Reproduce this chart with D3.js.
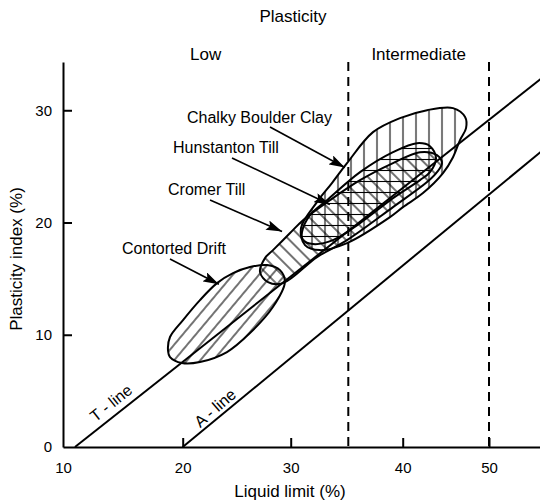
<!DOCTYPE html>
<html>
<head>
<meta charset="utf-8">
<script src="https://cdn.jsdelivr.net/npm/d3@7"></script>
<style>
  body { margin: 0; background: #fff; }
  text { font-family: "Liberation Sans", Arial, Helvetica, sans-serif; fill: #000; }
</style>
</head>
<body>
<svg id="chart" width="540" height="504"></svg>
<script>
// Axis ticks and plasticity class boundaries (liquid limit, %)
const liquidLimitTicks = [10, 20, 30, 40, 50];
const plasticityIndexTicks = [0, 10, 20, 30];
const classBoundaries = [35, 50];
const classNames = ["Low", "Intermediate"];

// Reference lines as [liquid limit, plasticity index] end points
const tLine = [[11, 0], [56, 32.8]];
const aLine = [[20, 0], [56, 26.3]];

// Envelopes of each till, outline points [LL, PI]
const contortedDrift = [
  [18.77, 8.64], [18.94, 9.80], [20.03, 11.31], [21.60, 13.09], [23.18, 14.60],
  [24.66, 15.49], [26.23, 16.03], [27.81, 16.21], [29.01, 15.76], [29.46, 14.69],
  [28.35, 12.47], [26.23, 10.15], [24.10, 8.46], [21.60, 7.57], [19.94, 7.48], [18.94, 8.01]
];
const cromerTill = [
  [27.16, 15.58], [27.62, 16.83], [28.36, 17.54], [29.94, 19.06], [31.07, 20.21],
  [33.41, 21.99], [36.08, 23.77], [39.11, 25.29], [42.00, 26.27], [43.97, 26.00],
  [44.55, 25.29], [43.97, 24.49], [42.82, 23.60], [39.11, 21.37], [34.89, 18.43],
  [32.28, 16.92], [29.29, 14.60], [27.90, 14.69]
];
const hunstantonTill = [
  [30.98, 19.15], [31.68, 20.66], [33.15, 21.99], [36.08, 24.49], [39.11, 26.27],
  [41.66, 27.07], [43.16, 26.80], [43.86, 25.73], [43.16, 24.49], [42.00, 23.78],
  [39.11, 22.17], [36.08, 19.95], [33.67, 18.43], [31.94, 18.08], [31.07, 18.43]
];
const chalkyBoulderClay = [
  [30.89, 19.50], [32.28, 21.82], [33.58, 23.51], [34.89, 25.29], [37.27, 28.05],
  [39.75, 29.30], [42.82, 30.01], [45.83, 30.19], [47.23, 29.39], [47.34, 28.41],
  [46.64, 27.34], [45.83, 25.82], [44.67, 24.40], [42.35, 22.62], [40.03, 21.37],
  [38.83, 20.48], [34.89, 18.17], [32.54, 17.54], [31.24, 17.99]
];

// Labelled envelopes: name, outline, point the arrow indicates [LL, PI]
const tillNames = ["Chalky Boulder Clay", "Hunstanton Till", "Cromer Till", "Contorted Drift"];
const tillOutlines = [chalkyBoulderClay, hunstantonTill, cromerTill, contortedDrift];
const arrowTargets = [[34.7, 24.9], [33.4, 21.6], [29.2, 19.2], [23.35, 14.5]];

const svg = d3.select("#chart");
svg.append("rect").attr("width", 540).attr("height", 504).attr("fill", "#fff");

// The axis is drawn slightly uneven, so the liquid limit scale is piecewise
const x = d3.scaleLinear()
  .domain([10, 20, 30, 35, 40, 50, 56])
  .range([63, 182.7, 290.7, 348.3, 402.7, 489, 540.8]);
const y = d3.scaleLinear().domain([0, 34.3]).range([447, 62]);

// Hatch patterns
const defs = svg.append("defs");
function hatch(id, spacing, angle, offset) {
  const p = defs.append("pattern")
    .attr("id", id)
    .attr("patternUnits", "userSpaceOnUse")
    .attr("width", spacing).attr("height", spacing)
    .attr("x", offset || 0)
    .attr("patternTransform", `rotate(${angle})`);
  p.append("line")
    .attr("x1", spacing / 2).attr("x2", spacing / 2)
    .attr("y1", -1).attr("y2", spacing + 1)
    .attr("stroke", "#000").attr("stroke-width", 1.1);
}
hatch("h-chalky", 13, 0, 403 % 13 - 6.5);
hatch("h-hunst", 11, 90);
hatch("h-cromer", 10, -45);
hatch("h-contorted", 10, 40);
const fills = ["url(#h-chalky)", "url(#h-hunst)", "url(#h-cromer)", "url(#h-contorted)"];

// Arrow head
defs.append("marker")
  .attr("id", "arrow")
  .attr("viewBox", "0 0 16 10")
  .attr("refX", 16).attr("refY", 5)
  .attr("markerWidth", 16).attr("markerHeight", 10)
  .attr("markerUnits", "userSpaceOnUse")
  .attr("orient", "auto")
  .append("path")
  .attr("d", "M0,0 L16,5 L0,10 L3,5 Z")
  .attr("fill", "#000");

// Axes
const xAxis = d3.axisBottom(x)
  .tickValues(liquidLimitTicks)
  .tickFormat(d3.format("d"))
  .tickSizeInner(-9).tickSizeOuter(0).tickPadding(15);
const yAxis = d3.axisLeft(y)
  .tickValues(plasticityIndexTicks)
  .tickFormat(d3.format("d"))
  .tickSizeInner(-9).tickSizeOuter(0).tickPadding(11);

const gx = svg.append("g").attr("transform", `translate(0,${y(0)})`).call(xAxis);
const gy = svg.append("g").attr("transform", `translate(${x(10)},0)`).call(yAxis);
[gx, gy].forEach(g => {
  g.select(".domain").attr("stroke", "#000").attr("stroke-width", 2);
  g.selectAll(".tick line").attr("stroke", "#000").attr("stroke-width", 2);
  g.selectAll(".tick text").attr("font-size", 15)
    .attr("font-family", '"Liberation Sans", Arial, sans-serif').attr("fill", "#000");
});
gy.selectAll(".tick").filter(d => d === 0).select("line").remove();
gx.selectAll(".tick").filter(d => d === 10).select("line").remove();

// Class boundaries
svg.selectAll(".bound").data(classBoundaries).join("line")
  .attr("x1", d => x(d)).attr("x2", d => x(d))
  .attr("y1", y(34.3)).attr("y2", y(0))
  .attr("stroke", "#000").attr("stroke-width", 2)
  .attr("stroke-dasharray", "9,6");

// Class names centred in their bands
const bandEdges = [10].concat(classBoundaries);
svg.selectAll(".cls").data(classNames).join("text")
  .attr("x", (d, i) => (x(bandEdges[i]) + x(bandEdges[i + 1])) / 2)
  .attr("y", 60)
  .attr("text-anchor", "middle")
  .attr("font-size", 17)
  .text(d => d);

svg.append("text").attr("x", 293).attr("y", 22)
  .attr("text-anchor", "middle").attr("font-size", 17).text("Plasticity");

// Axis titles
svg.append("text").attr("x", 290).attr("y", 497)
  .attr("text-anchor", "middle").attr("font-size", 17).text("Liquid limit (%)");
svg.append("text")
  .attr("transform", "translate(22,259) rotate(-90)")
  .attr("text-anchor", "middle").attr("font-size", 17).text("Plasticity index (%)");

// T-line and A-line
const line = d3.line().x(d => x(d[0])).y(d => y(d[1]));
[tLine, aLine].forEach(l => {
  svg.append("path").attr("d", line(l))
    .attr("fill", "none").attr("stroke", "#000").attr("stroke-width", 2);
});
const lineLabels = [["T - line", 111, 403, -38.5], ["A - line", 215, 408, -41]];
lineLabels.forEach(([t, cx, cy, a]) => {
  svg.append("text")
    .attr("transform", `translate(${cx},${cy}) rotate(${a})`)
    .attr("text-anchor", "middle").attr("dy", "0.35em")
    .attr("font-size", 16).text(t);
});

// Envelopes: hatching first, outlines on top
const outline = d3.line()
  .x(d => x(d[0])).y(d => y(d[1]))
  .curve(d3.curveCatmullRomClosed.alpha(0.5));
tillOutlines.forEach((pts, i) => {
  svg.append("path").attr("d", outline(pts)).attr("fill", fills[i]).attr("stroke", "none");
});
tillOutlines.forEach(pts => {
  svg.append("path").attr("d", outline(pts))
    .attr("fill", "none").attr("stroke", "#000").attr("stroke-width", 2);
});

// Labels with arrows
const labelPlacement = [
  { tx: 187, ty: 123, sx: 270, sy: 127 },
  { tx: 173, ty: 153, sx: 232, sy: 158 },
  { tx: 168, ty: 195, sx: 210, sy: 200 },
  { tx: 122, ty: 254, sx: 170, sy: 259 }
];
tillNames.forEach((name, i) => {
  const p = labelPlacement[i];
  svg.append("text").attr("x", p.tx).attr("y", p.ty).attr("font-size", 16).text(name);
  svg.append("line")
    .attr("x1", p.sx).attr("y1", p.sy)
    .attr("x2", x(arrowTargets[i][0])).attr("y2", y(arrowTargets[i][1]))
    .attr("stroke", "#000").attr("stroke-width", 1.6)
    .attr("marker-end", "url(#arrow)");
});
</script>
</body>
</html>
